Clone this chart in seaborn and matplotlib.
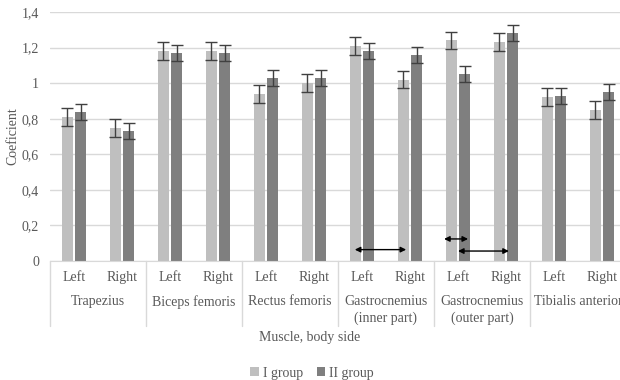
import numpy as np
import pandas as pd
import seaborn as sns
import matplotlib.pyplot as plt
import matplotlib.transforms as mtransforms

# Data
muscles = ['Trapezius', 'Biceps femoris', 'Rectus femoris',
           'Gastrocnemius\n(inner part)', 'Gastrocnemius\n(outer part)', 'Tibialis anterior']
sides = ['Left', 'Right']
group_I = [0.81, 0.75, 1.18, 1.18, 0.94, 1.00, 1.21, 1.02, 1.24, 1.23, 0.92, 0.85]
group_II = [0.84, 0.73, 1.17, 1.17, 1.03, 1.03, 1.18, 1.16, 1.05, 1.28, 0.93, 0.95]
err_I = [0.05] * 12
err_II = [0.045] * 12
yticks = [0, 0.2, 0.4, 0.6, 0.8, 1.0, 1.2, 1.4]
ytick_labels = ['0', '0,2', '0,4', '0,6', '0,8', '1', '1,2', '1,4']

# arrows (x1, x2, y) in category units
arrows = [(5.85, 6.92, 0.064), (7.71, 8.21, 0.124), (8.0, 9.06, 0.056)]

cats = [m + ' ' + s for m in muscles for s in sides]
df = pd.DataFrame({
    'cat': cats * 2,
    'value': group_I + group_II,
    'group': ['I group'] * 12 + ['II group'] * 12,
})

sns.set_style('white')
plt.rcParams['font.family'] = ['Liberation Serif', 'DejaVu Serif']
txt = '#595959'
fs = 10

fig = plt.figure(figsize=(6.2, 3.8), dpi=100)
ax = fig.add_axes([50 / 620, 1 - 261 / 380, 576 / 620, 249 / 380])

sns.barplot(data=df, x='cat', y='value', hue='group', order=cats,
            palette=['#bfbfbf', '#7f7f7f'], width=0.56, gap=0.21,
            linewidth=0, ax=ax, legend=True)

# error bars on each bar
for cont, errs in zip(ax.containers, [err_I, err_II]):
    for bar, e in zip(cont, errs):
        xc = bar.get_x() + bar.get_width() / 2
        ax.errorbar(xc, bar.get_height(), yerr=e, color='#404040',
                    lw=1, capsize=4.5, capthick=1)

ax.set_ylim(0, 1.4)
ax.set_xlim(-0.5, 11.5)
ax.set_yticks(yticks)
ax.set_yticklabels(ytick_labels, color=txt, fontsize=fs)
ax.yaxis.grid(True, color='#d9d9d9', lw=1)
ax.set_axisbelow(True)
for s in ['top', 'right', 'left']:
    ax.spines[s].set_visible(False)
ax.spines['bottom'].set_color('#d9d9d9')
ax.tick_params(axis='y', length=0, pad=8)
ax.tick_params(axis='x', length=0, pad=7)
ax.set_xticks(range(12))
ax.set_xticklabels(sides * 6, color=txt, fontsize=fs)
ax.set_xlabel('')
ax.set_ylabel('Coeficient', color=txt, fontsize=fs)
ax.yaxis.set_label_coords(-0.054, 0.5)

# group labels and separators below the axis
trans = mtransforms.blended_transform_factory(ax.transData, ax.transAxes)
for i, m in enumerate(muscles):
    ax.text(2 * i + 0.5, -0.138, m, transform=trans, ha='center', va='top',
            color=txt, fontsize=fs, linespacing=1.3)
for b in np.arange(-0.5, 12, 2):
    ax.plot([b, b], [0, -0.261], transform=trans, color='#d9d9d9', lw=1,
            clip_on=False)
fig.text(310 / 620, 1 - 337 / 380, 'Muscle, body side', ha='center', va='center',
         color=txt, fontsize=fs)

for x1, x2, y in arrows:
    ax.annotate('', xy=(x2, y), xytext=(x1, y),
                arrowprops=dict(arrowstyle='<|-|>', color='black', lw=1,
                                mutation_scale=8, shrinkA=0, shrinkB=0))

handles, labels = ax.get_legend_handles_labels()
ax.get_legend().remove()
fig.legend(handles, labels, loc='center', bbox_to_anchor=(312 / 620, 1 - 373 / 380),
           ncol=2, frameon=False, fontsize=fs, labelcolor=txt,
           handlelength=0.6, handleheight=0.6, handletextpad=0.3, columnspacing=1.0)

plt.savefig('out.png', dpi=100)
